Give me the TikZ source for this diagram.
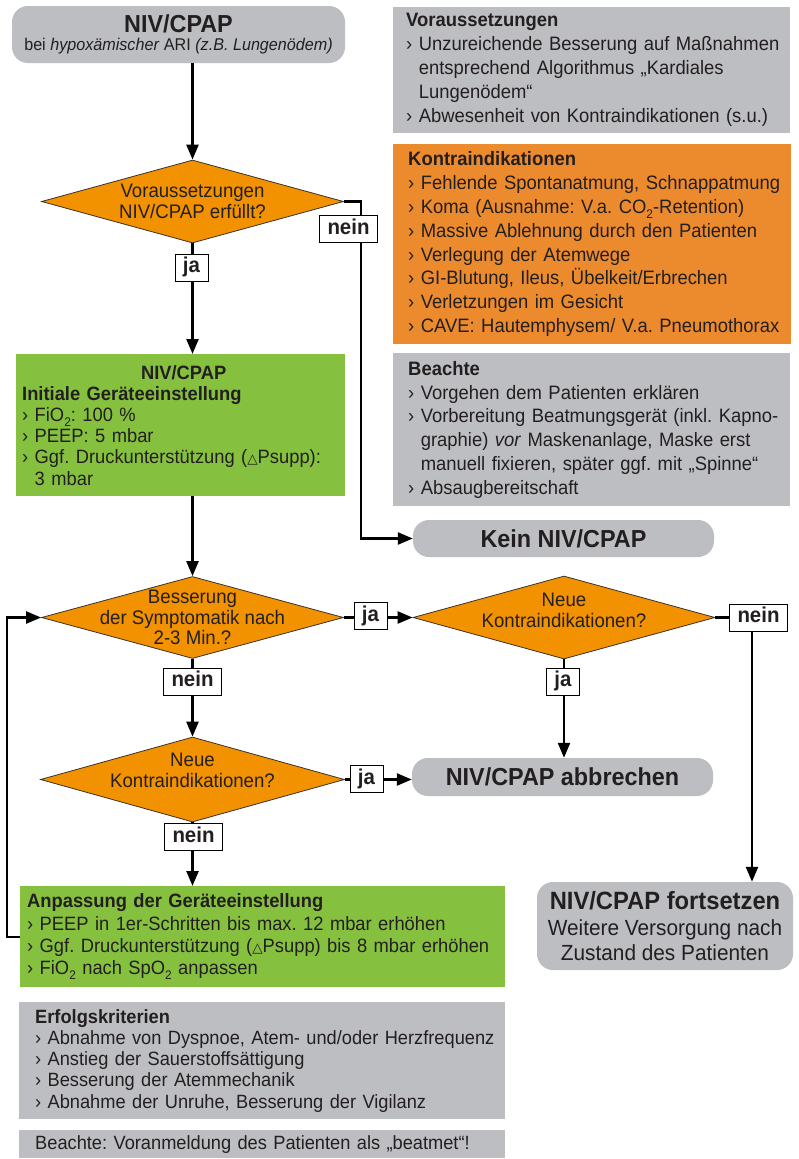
\documentclass[tikz,border=0pt]{standalone}
\usepackage{fontspec}
\setmainfont{Liberation Sans}[FakeStretch=0.95]
\newfontfamily\dvsfont{DejaVu Sans}
\usetikzlibrary{shapes.geometric,arrows.meta}
\definecolor{boxgray}{RGB}{189,190,194}
\definecolor{diaorange}{RGB}{242,146,0}
\definecolor{boxorange}{RGB}{236,139,46}
\definecolor{boxgreen}{RGB}{134,192,63}
\definecolor{txt}{RGB}{35,31,32}
\definecolor{diaborder}{RGB}{60,50,40}
\newcommand{\mytri}{{\dvsfont\fontsize{13.5}{13.5}\selectfont △}}
\newcommand{\lsub}[1]{\raisebox{-0.5ex}{\fontsize{12.5}{12.5}\selectfont #1}}
\newcommand{\mybu}{›\ }
\newcommand{\myind}{\phantom{›\ }}
\frenchspacing
\begin{document}
\begin{tikzpicture}[x=1pt,y=-1pt,
  every node/.style={text=txt},
  panel/.style={rectangle, anchor=north west, inner sep=0pt, align=left},
  dia/.style={diamond, draw=diaborder, line width=0.8pt, fill=diaorange, inner sep=0pt},
  diatxt/.style={align=center, inner sep=0pt, font=\fontsize{19.6}{21}\selectfont},
  lab/.style={rectangle, draw=black, line width=0.8pt, fill=white, inner xsep=8pt, inner ysep=0pt,
     minimum height=27pt, text height=15pt, text depth=4.5pt, font=\fontsize{21.5}{21.5}\selectfont\bfseries},
  pill/.style={rectangle, rounded corners=16pt, fill=boxgray, inner sep=0pt, font=\fontsize{24.6}{24.6}\selectfont\bfseries},
  conn/.style={line width=2.4pt, draw=black},
  arr/.style={conn, -{Triangle[length=15pt,width=12pt]}}
]
\useasboundingbox (0,0) rectangle (798,1159);
\fill[white] (0,0) rectangle (798,1159);

% start
\node[pill, minimum width=333pt, minimum height=57pt, align=center, font=\fontsize{17}{18}\selectfont] (start) at (178.5,34.5)
  {{\fontsize{24.6}{24.6}\selectfont\bfseries NIV/CPAP}\\ bei \textit{hypoxämischer} ARI \textit{(z.B. Lungenödem)}};

% right panels
\node[panel, fill=boxgray, text width=397pt, minimum width=397pt, minimum height=126pt, font=\fontsize{19.4}{24}\selectfont] (vor) at (393,7)
  {\leftskip=13pt \textbf{Voraussetzungen}\\
   \mybu Unzureichende Besserung auf Maßnahmen\\
   \myind entsprechend Algorithmus „Kardiales\\
   \myind Lungenödem“\\
   \mybu Abwesenheit von Kontraindikationen (s.u.)\par};
\node[panel, fill=boxorange, text width=398pt, minimum width=398pt, minimum height=200pt, font=\fontsize{19.4}{23.8}\selectfont] (kontra) at (393,144)
  {\leftskip=15pt \textbf{Kontraindikationen}\\
   \mybu Fehlende Spontanatmung, Schnappatmung\\
   \mybu Koma (Ausnahme: V.a. CO\lsub{2}-Retention)\\
   \mybu Massive Ablehnung durch den Patienten\\
   \mybu Verlegung der Atemwege\\
   \mybu GI-Blutung, Ileus, Übelkeit/Erbrechen\\
   \mybu Verletzungen im Gesicht\\
   \mybu CAVE: Hautemphysem/ V.a. Pneumothorax\par};
\node[panel, fill=boxgray, text width=397pt, minimum width=397pt, minimum height=153pt, font=\fontsize{19.4}{23.8}\selectfont] (beachte) at (393,353)
  {\leftskip=15pt \textbf{Beachte}\\
   \mybu Vorgehen dem Patienten erklären\\
   \mybu Vorbereitung Beatmungsgerät (inkl. Kapno-\\
   \myind graphie) \textit{vor} Maskenanlage, Maske erst\\
   \myind manuell fixieren, später ggf. mit „Spinne“\\
   \mybu Absaugbereitschaft\par};

% green panels
\node[panel, fill=boxgreen, text width=329pt, minimum width=329pt, minimum height=142pt, font=\fontsize{19.3}{21.2}\selectfont] (g1) at (16,354)
  {\leftskip=6pt \makebox[323pt][c]{\textbf{NIV/CPAP}}\\
   \textbf{Initiale Geräteeinstellung}\\
   \mybu FiO\lsub{2}: 100 \%\\
   \mybu PEEP: 5 mbar\\
   \mybu Ggf. Druckunterstützung (\mytri Psupp):\\
   \myind 3 mbar\par};
\node[panel, fill=boxgreen, text width=485pt, minimum width=485pt, minimum height=101pt, font=\fontsize{19.3}{22.3}\selectfont] (g2) at (20,886)
  {\leftskip=7pt \textbf{Anpassung der Geräteeinstellung}\\
   \mybu PEEP in 1er-Schritten bis max. 12 mbar erhöhen\\
   \mybu Ggf. Druckunterstützung (\mytri Psupp) bis 8 mbar erhöhen\\
   \mybu FiO\lsub{2} nach SpO\lsub{2} anpassen\par};

% bottom panels
\node[panel, fill=boxgray, text width=486pt, minimum width=486pt, minimum height=117pt, font=\fontsize{19.2}{21.25}\selectfont] (erfolg) at (19,1002)
  {\leftskip=16pt \textbf{Erfolgskriterien}\\
   \mybu Abnahme von Dyspnoe, Atem- und/oder Herzfrequenz\\
   \mybu Anstieg der Sauerstoffsättigung\\
   \mybu Besserung der Atemmechanik\\
   \mybu Abnahme der Unruhe, Besserung der Vigilanz\par};
\node[panel, fill=boxgray, text width=486pt, minimum width=486pt, minimum height=28pt, font=\fontsize{19.2}{21.25}\selectfont] (beachte2) at (19,1130)
  {\leftskip=16pt Beachte: Voranmeldung des Patienten als „beatmet“!\par};

% end boxes
\node[pill, minimum width=301pt, minimum height=37pt] (kein) at (563.5,538.5) {Kein NIV/CPAP};
\node[pill, minimum width=301pt, minimum height=38pt] (abbr) at (562.5,777) {NIV/CPAP abbrechen};
\node[pill, minimum width=256pt, minimum height=88pt, align=center, font=\fontsize{21.9}{25}\selectfont] (fort) at (665,926)
  {{\fontsize{25}{25}\selectfont\bfseries NIV/CPAP fortsetzen}\\[1.5pt]
   Weitere Versorgung nach\\ Zustand des Patienten};

% diamonds
\node[dia, minimum width=302pt, minimum height=83pt] (d1) at (192.5,201.5) {};
\node[diatxt] (d1t) at (d1.center) {Voraussetzungen\\NIV/CPAP erfüllt?};
\node[dia, minimum width=302pt, minimum height=82pt] (d2) at (192.5,617.5) {};
\node[diatxt, font=\fontsize{19.6}{20.3}\selectfont] (d2t) at (d2.center) {Besserung\\der Symptomatik nach\\2-3 Min.?};
\node[dia, minimum width=302pt, minimum height=83pt] (d3) at (564,617.5) {};
\node[diatxt, yshift=7pt] (d3t) at (d3.center) {Neue\\Kontraindikationen?};
\node[dia, minimum width=304pt, minimum height=85pt] (d4) at (192.5,779.5) {};
\node[diatxt, yshift=9pt] (d4t) at (d4.center) {Neue\\Kontraindikationen?};

% helper coordinates
\coordinate (nx) at (361,0);
\coordinate (nx3) at (752,0);
\coordinate (lx) at (7,0);

% connectors
\draw[arr] (start.south -| d1.north) -- (d1.north);
\draw[arr] (d1.south) -- (d1.south |- g1.north);
\draw[arr] (d1.east) -- (d1.east -| nx) -- (kein.west -| nx) -- (kein.west);
\draw[arr] (g1.south -| d2.north) -- (d2.north);
\draw[arr] (d2.east) -- (d3.west);
\draw[arr] (d3.east) -- (d3.east -| nx3) -- (fort.north -| nx3);
\draw[arr] (d3.south) -- (d3.south |- abbr.north);
\draw[arr] (d2.south) -- (d4.north);
\draw[arr] (d4.east) -- (d4.east -| abbr.west);
\draw[arr] (d4.south) -- (d4.south |- g2.north);
\draw[arr] (g2.west) -- (g2.west -| lx) -- (d2.west -| lx) -- (d2.west);

% labels
\node[lab] (ja1) at (191.5,267.5) {ja};
\node[lab] (nein1) at (348.5,229) {nein};
\node[lab] (ja2) at (370.5,616) {ja};
\node[lab] (nein3) at (758.5,617.5) {nein};
\node[lab] (ja3) at (563,681.5) {ja};
\node[lab] (nein2) at (192.5,681.5) {nein};
\node[lab] (ja4) at (366.5,779) {ja};
\node[lab] (nein4) at (193.5,837) {nein};
\end{tikzpicture}
\end{document}
